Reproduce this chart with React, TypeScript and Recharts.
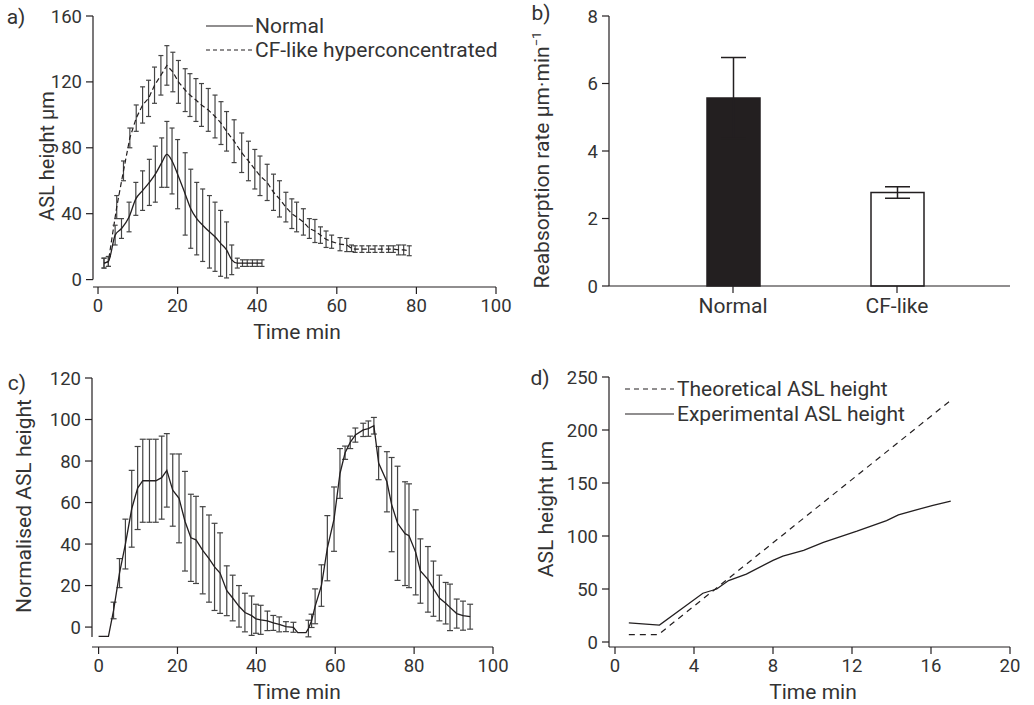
import React from 'react';
import { ComposedChart, BarChart, Bar, Line, XAxis, YAxis, ErrorBar, ReferenceLine, Cell } from 'recharts';

// ---------- Panel a: ASL height over time ----------
const normalTime = [1.5, 2.6, 4.3, 5.9, 7.8, 9.5, 11.2, 12.9, 14.4, 16.0, 17.3, 18.6, 20.0, 21.9, 23.3, 24.8, 26.3, 28.0, 29.4, 30.8, 32.3, 33.6, 35.0, 36.3, 37.5, 38.8, 40.0, 41.2];
const normalMean = [10, 11, 27, 31, 38, 49, 54, 59, 64, 71, 76, 72, 64, 52, 43, 37, 33, 29, 26, 22, 18, 12, 10, 10, 10, 10, 10, 10];
const normalErr = [3, 3, 6, 6, 9, 10, 12, 14, 17, 15, 20, 20, 21, 25, 24, 22, 22, 22, 21, 20, 17, 9, 3, 2, 2, 2, 2, 2];

const cfTime = [1.5, 2.6, 4.7, 6.4, 8.0, 9.6, 11.2, 12.7, 14.2, 15.8, 17.3, 18.8, 20.2, 21.9, 23.1, 24.6, 26.0, 27.7, 29.4, 30.9, 32.3, 34.2, 36.1, 37.8, 39.4, 40.7, 42.5, 44.1, 45.6, 47.2, 48.7, 49.9, 51.6, 53.1, 54.5, 55.9, 57.3, 58.7, 60.8, 62.5, 63.7, 64.6, 66.3, 68.0, 69.6, 71.3, 73.0, 74.2, 75.5, 76.8, 78.2];
const cfMean = [10, 11, 44, 66, 86, 98, 106, 110, 118, 124, 130, 126, 120, 115, 112, 109, 106, 103, 99, 95, 90, 84, 77, 72, 67, 63, 59, 53, 49, 44, 40, 38, 35, 31, 29.5, 27, 24.5, 23, 21.5, 21, 19, 18.5, 18.5, 18.5, 18.5, 18.5, 18.5, 18.5, 18, 18, 17.5];
const cfErr = [3, 3, 7, 6, 6, 8, 11, 11, 11, 12, 12, 12, 13, 13, 13, 13, 13, 13, 13, 13, 12, 13, 12, 12, 12, 12, 11, 11, 11, 9, 9, 9, 8, 6, 7, 5, 5, 4, 4, 4, 2, 2, 2, 2, 2, 2, 2, 2, 3, 3, 3];

// ---------- Panel b: reabsorption rate ----------
const groups = ['Normal', 'CF-like'];
const rates = [5.57, 2.77];
const rateErr = [1.2, 0.17];
const barFills = ['#231f20', '#ffffff'];

// ---------- Panel c: normalised ASL height ----------
const cTime = [0, 2.5, 3.8, 5.3, 6.8, 8.4, 9.9, 11.2, 12.9, 14.5, 16.0, 17.3, 18.8, 20.4, 21.9, 23.4, 24.7, 26.4, 28.0, 29.4, 30.8, 32.5, 34.0, 35.6, 37.1, 38.8, 39.9, 41.1, 42.8, 44.3, 45.8, 47.5, 49.4, 50.5, 52.6, 53.2, 54.0, 54.9, 56.5, 58.0, 59.7, 61.2, 62.5, 63.8, 65.1, 67.1, 68.4, 69.8, 71.0, 73.1, 74.3, 75.8, 77.7, 78.7, 80.4, 81.6, 83.5, 84.9, 86.4, 88.0, 89.1, 90.8, 92.4, 94.2];
const cValue = [-4.5, -4.5, 8, 26, 40, 57, 67, 70.5, 70.5, 70.5, 72, 75.5, 66, 62, 51, 43, 42, 37, 33, 29, 26, 17.5, 14, 10, 7, 5.5, 4, 3.5, 3, 2, 1.3, 0.2, -0.1, -2.7, -2.7, -0.7, 3, 10, 20, 38, 52, 74, 84, 89, 92.5, 95, 95.6, 97, 79, 70, 59, 50, 45, 44, 36, 27, 23, 18.5, 14, 11.5, 9.5, 6.5, 5.5, 5];
const cErr = [0, 0, 4, 7, 12, 18.5, 20, 20, 20, 20, 20, 17.7, 17.4, 21.4, 24, 21, 21, 21, 21, 21, 19.4, 12, 11, 10, 9.3, 9.5, 7, 7, 4.7, 3.6, 3.6, 2.4, 2.4, 0, 0, 4, 3.2, 8.4, 10, 15.7, 15.5, 12, 3.2, 3, 3.4, 3.2, 3.7, 4, 8, 14.5, 22.7, 27.5, 25, 25, 20.5, 15.5, 15.8, 13.3, 11, 10, 11.2, 7, 7, 6];

// ---------- Panel d: theoretical vs experimental ----------
const theoTime = [0.7, 2.2, 17.0];
const theoHeight = [7, 7, 228];
const expTime = [0.7, 2.25, 4.45, 5.15, 5.75, 6.65, 8.0, 8.5, 9.55, 10.55, 12.25, 13.75, 14.35, 16.1, 17.0];
const expHeight = [18, 16, 46, 50, 58, 64, 77, 81, 86.5, 94, 104.5, 114.5, 120, 129, 133];

const normalData = normalTime.map((t, i) => ({ t, v: normalMean[i], e: normalErr[i] }));
const cfData = cfTime.map((t, i) => ({ t, v: cfMean[i], e: cfErr[i] }));
const rateData = groups.map((name, i) => ({ name, v: rates[i], e: rateErr[i] }));
const cData = cTime.map((t, i) => ({ t, v: cValue[i], e: cErr[i] }));
const theoData = theoTime.map((t, i) => ({ t, v: theoHeight[i] }));
const expData = expTime.map((t, i) => ({ t, v: expHeight[i] }));

const FONT = 'Roboto, "DejaVu Sans", sans-serif';
const INK = '#231f20';
const TXT = '#333333';
const tickStyle = { fill: TXT, fontSize: 18.5, fontFamily: FONT };
const catTickStyle = { fill: TXT, fontSize: 21, fontFamily: FONT };
const axisStroke = { stroke: INK, strokeWidth: 1.2 };

type TxtProps = { x: number; y: number; rotate?: boolean; left?: boolean; size?: number; children: React.ReactNode };
function Txt({ x, y, rotate, left, size, children }: TxtProps) {
  const transform = rotate
    ? 'translate(-50%,-50%) rotate(-90deg)'
    : left
    ? 'translate(0,-50%)'
    : 'translate(-50%,-50%)';
  return (
    <div
      style={{
        position: 'absolute',
        left: x,
        top: y,
        transform,
        whiteSpace: 'nowrap',
        fontSize: size ?? 21,
        lineHeight: 1,
        fontFamily: FONT,
        color: TXT,
      }}
    >
      {children}
    </div>
  );
}

function Sample({ x, y, w, dash }: { x: number; y: number; w: number; dash?: string }) {
  return (
    <svg style={{ position: 'absolute', left: x, top: y - 3 }} width={w} height={6}>
      <line x1={0} y1={3} x2={w} y2={3} stroke={INK} strokeWidth={1.2} strokeDasharray={dash} />
    </svg>
  );
}

const A_XMIN = -1.26;
const C_XMIN = -1.67;

export default function App() {
  return (
    <div style={{ position: 'absolute', left: 0, top: 0, width: 1034, height: 705, background: '#fff', overflow: 'hidden' }}>
      {/* Panel a */}
      <div style={{ position: 'absolute', left: 0, top: 0 }}>
        <ComposedChart width={520} height={340} margin={{ top: 16, right: 24, bottom: 23, left: 33 }}>
          <XAxis
            type="number"
            dataKey="t"
            domain={[A_XMIN, 100]}
            ticks={[0, 20, 40, 60, 80, 100]}
            allowDataOverflow
            height={30}
            tickSize={7}
            tickMargin={5}
            tick={tickStyle}
            axisLine={axisStroke}
            tickLine={axisStroke}
          />
          <YAxis
            type="number"
            domain={[-4.5, 160]}
            ticks={[0, 40, 80, 120, 160]}
            allowDataOverflow
            width={60}
            tickSize={7}
            tickMargin={4}
            tick={tickStyle}
            axisLine={false}
            tickLine={axisStroke}
          />
          <ReferenceLine
            segment={[{ x: A_XMIN, y: 0 }, { x: A_XMIN, y: 160 }]}
            stroke={INK}
            strokeWidth={1.2}
            ifOverflow="visible"
          />
          <Line data={cfData} dataKey="v" type="linear" stroke={INK} strokeWidth={1.2} strokeDasharray="5 3" dot={false} isAnimationActive={false}>
            <ErrorBar dataKey="e" width={2.5} stroke="#444" strokeWidth={1.2} direction="y" />
          </Line>
          <Line data={normalData} dataKey="v" type="monotone" stroke={INK} strokeWidth={1.3} dot={false} isAnimationActive={false}>
            <ErrorBar dataKey="e" width={2.5} stroke="#444" strokeWidth={1.2} direction="y" />
          </Line>
        </ComposedChart>
      </div>
      <Txt x={16} y={17}>a)</Txt>
      <Txt x={47} y={156} rotate size={20}>ASL height µm</Txt>
      <Txt x={297} y={332}>Time min</Txt>
      <Sample x={206} y={26} w={47} />
      <Txt x={255} y={26} left>Normal</Txt>
      <Sample x={206} y={50} w={47} dash="4 3" />
      <Txt x={255} y={50} left>CF-like hyperconcentrated</Txt>

      {/* Panel b */}
      <div style={{ position: 'absolute', left: 520, top: 0 }}>
        <BarChart width={514} height={340} data={rateData} margin={{ top: 16, right: 24, bottom: 24, left: 29 }}>
          <XAxis
            dataKey="name"
            height={30}
            padding={{ left: 42, right: 31 }}
            tickSize={7}
            tickMargin={5}
            tick={catTickStyle}
            axisLine={axisStroke}
            tickLine={axisStroke}
          />
          <YAxis
            type="number"
            domain={[0, 8]}
            ticks={[0, 2, 4, 6, 8]}
            width={60}
            tickSize={7}
            tickMargin={4}
            tick={tickStyle}
            axisLine={axisStroke}
            tickLine={axisStroke}
          />
          <Bar dataKey="v" barSize={53} stroke={INK} strokeWidth={1.5} isAnimationActive={false}>
            {rateData.map((d, i) => (
              <Cell key={d.name} fill={barFills[i]} />
            ))}
            <ErrorBar dataKey="e" width={12.5} stroke={INK} strokeWidth={1.5} direction="y" />
          </Bar>
        </BarChart>
      </div>
      <Txt x={541} y={13}>b)</Txt>
      <Txt x={541} y={160} rotate>
        Reabsorption rate µm·min<sup style={{ fontSize: '0.62em' }}>−1</sup>
      </Txt>

      {/* Panel c */}
      <div style={{ position: 'absolute', left: 0, top: 360 }}>
        <ComposedChart width={520} height={345} margin={{ top: 18, right: 27, bottom: 28, left: 32 }}>
          <XAxis
            type="number"
            dataKey="t"
            domain={[C_XMIN, 100]}
            ticks={[0, 20, 40, 60, 80, 100]}
            allowDataOverflow
            height={30}
            tickSize={7}
            tickMargin={5}
            tick={tickStyle}
            axisLine={axisStroke}
            tickLine={axisStroke}
          />
          <YAxis
            type="number"
            domain={[-9.6, 120]}
            ticks={[0, 20, 40, 60, 80, 100, 120]}
            allowDataOverflow
            width={60}
            tickSize={7}
            tickMargin={4}
            tick={tickStyle}
            axisLine={false}
            tickLine={axisStroke}
          />
          <ReferenceLine
            segment={[{ x: C_XMIN, y: -4.8 }, { x: C_XMIN, y: 120 }]}
            stroke={INK}
            strokeWidth={1.2}
            ifOverflow="visible"
          />
          <Line data={cData} dataKey="v" type="linear" stroke={INK} strokeWidth={1.3} dot={false} isAnimationActive={false}>
            <ErrorBar dataKey="e" width={3} stroke="#444" strokeWidth={1.2} direction="y" />
          </Line>
        </ComposedChart>
      </div>
      <Txt x={17} y={383}>c)</Txt>
      <Txt x={24} y={506} rotate>Normalised ASL height</Txt>
      <Txt x={297} y={692}>Time min</Txt>

      {/* Panel d */}
      <div style={{ position: 'absolute', left: 520, top: 360 }}>
        <ComposedChart width={514} height={345} margin={{ top: 17, right: 24, bottom: 28, left: 29 }}>
          <XAxis
            type="number"
            dataKey="t"
            domain={[0, 20]}
            ticks={[0, 4, 8, 12, 16, 20]}
            padding={{ left: 6 }}
            height={30}
            tickSize={7}
            tickMargin={5}
            tick={tickStyle}
            axisLine={axisStroke}
            tickLine={axisStroke}
          />
          <YAxis
            type="number"
            domain={[0, 250]}
            ticks={[0, 50, 100, 150, 200, 250]}
            padding={{ bottom: 5 }}
            width={60}
            tickSize={7}
            tickMargin={4}
            tick={tickStyle}
            axisLine={axisStroke}
            tickLine={axisStroke}
          />
          <Line data={theoData} dataKey="v" type="linear" stroke={INK} strokeWidth={1.2} strokeDasharray="6 5" dot={false} isAnimationActive={false} />
          <Line data={expData} dataKey="v" type="linear" stroke={INK} strokeWidth={1.3} dot={false} isAnimationActive={false} />
        </ComposedChart>
      </div>
      <Txt x={540} y={378}>d)</Txt>
      <Txt x={546} y={509} rotate>ASL height µm</Txt>
      <Txt x={813} y={692}>Time min</Txt>
      <Sample x={625} y={389} w={49} dash="5 4" />
      <Txt x={677} y={389} left>Theoretical ASL height</Txt>
      <Sample x={625} y={414} w={49} />
      <Txt x={677} y={414} left>Experimental ASL height</Txt>
    </div>
  );
}
